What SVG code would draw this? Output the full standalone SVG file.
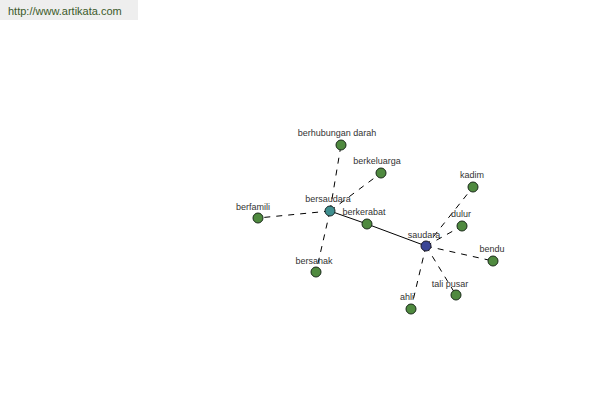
<svg xmlns="http://www.w3.org/2000/svg" width="600" height="400" viewBox="0 0 600 400">
<style>
.lbl{font-family:"Liberation Sans",Arial,sans-serif;font-size:9px;fill:#333;text-anchor:middle}
.n{fill:#4f8a3f;stroke:#1a2a1a;stroke-width:1}
.d{stroke:#000;stroke-width:1;stroke-dasharray:6,6;fill:none}
.s{stroke:#000;stroke-width:1;fill:none}
</style>
<rect x="0" y="0" width="600" height="400" fill="#fff"/>
<rect x="0" y="0" width="138" height="20" fill="#eeeeee"/>
<text x="8" y="15" font-family="'Liberation Sans',Arial,sans-serif" font-size="11" fill="#3b5a2a">http://www.artikata.com</text>
<g id="connectors">
<line class="d" x1="330" y1="211" x2="341" y2="145"/>
<line class="d" x1="330" y1="211" x2="381" y2="173"/>
<line class="d" x1="330" y1="211" x2="258" y2="218"/>
<line class="d" x1="330" y1="211" x2="316" y2="272"/>
<line class="s" x1="330" y1="211" x2="367" y2="224"/>
<line class="s" x1="367" y1="224" x2="426" y2="246"/>
<line class="d" x1="426" y1="246" x2="473" y2="187"/>
<line class="d" x1="426" y1="246" x2="462" y2="226"/>
<line class="d" x1="426" y1="246" x2="493" y2="261"/>
<line class="d" x1="426" y1="246" x2="456" y2="295"/>
<line class="d" x1="426" y1="246" x2="411" y2="309"/>
</g>
<g id="berhubungan-darah"><circle class="n" cx="341" cy="145" r="5"/><text class="lbl" x="337" y="136">berhubungan darah</text></g>
<g id="berkeluarga"><circle class="n" cx="381" cy="173" r="5"/><text class="lbl" x="377" y="164">berkeluarga</text></g>
<g id="berfamili"><circle class="n" cx="258" cy="218" r="5"/><text class="lbl" x="253" y="210">berfamili</text></g>
<g id="bersaudara"><circle cx="330" cy="211" r="5" fill="#3f8f8f" stroke="#1a2a2a"/><text class="lbl" x="328" y="202">bersaudara</text></g>
<g id="berkerabat"><circle class="n" cx="367" cy="224" r="5"/><text class="lbl" x="364" y="215">berkerabat</text></g>
<g id="bersanak"><circle class="n" cx="316" cy="272" r="5"/><text class="lbl" x="314" y="264">bersanak</text></g>
<g id="saudara"><circle cx="426" cy="246" r="5" fill="#3a4596" stroke="#1a1a2a"/><text class="lbl" x="424" y="238">saudara</text></g>
<g id="kadim"><circle class="n" cx="473" cy="187" r="5"/><text class="lbl" x="472" y="178">kadim</text></g>
<g id="dulur"><circle class="n" cx="462" cy="226" r="5"/><text class="lbl" x="461" y="217">dulur</text></g>
<g id="bendu"><circle class="n" cx="493" cy="261" r="5"/><text class="lbl" x="492" y="252">bendu</text></g>
<g id="tali-pusar"><circle class="n" cx="456" cy="295" r="5"/><text class="lbl" x="450" y="287">tali pusar</text></g>
<g id="ahli"><circle class="n" cx="411" cy="309" r="5"/><text class="lbl" x="407" y="300">ahli</text></g>
</svg>
